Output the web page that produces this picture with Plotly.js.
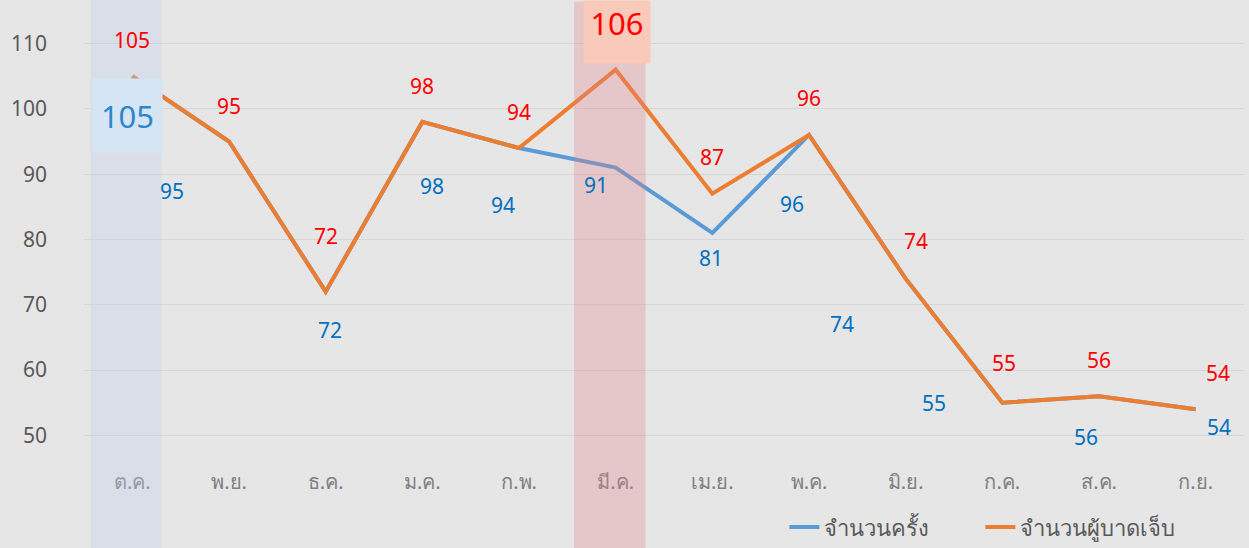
<!DOCTYPE html>
<html>
<head>
<meta charset="utf-8">
<script src="https://cdn.plot.ly/plotly-3.0.1.min.js"></script>
<style>html,body{margin:0;padding:0;background:#e6e6e6;}#chart{width:1249px;height:548px;}</style>
</head>
<body>
<div id="chart"></div>
<script>
// ---- data ----
const months = ['ต.ค.','พ.ย.','ธ.ค.','ม.ค.','ก.พ.','มี.ค.','เม.ย.','พ.ค.','มิ.ย.','ก.ค.','ส.ค.','ก.ย.'];
const incidents = [105, 95, 72, 98, 94, 91, 81, 96, 74, 55, 56, 54];   // จำนวนครั้ง
const injured   = [105, 95, 72, 98, 94, 106, 87, 96, 74, 55, 56, 54];  // จำนวนผู้บาดเจ็บ
const seriesNames = ['จำนวนครั้ง', 'จำนวนผู้บาดเจ็บ'];
const yTicks = [50, 60, 70, 80, 90, 100, 110];

// ---- label placement (pixel offsets, styling only) ----
const blueShift = [[-5,-39],[-57,-49],[4,-38],[10,-64],[-16,-57],[-20,-17],[-1,-25],[-17,-69],[-64,-45],[-68,0],[-13,-41],[23,-18]];
const redShift  = [[0,36],[0,36],[0,56],[0,36],[0,36],[1,38],[0,37],[0,37],[10,38],[2,40],[0,36],[22,36]];
const bigBlueIdx = 0, bigRedIdx = 5;

const FONT = '"Noto Sans", "Open Sans", "DejaVu Sans", sans-serif';

const traces = [
  {x: months, y: incidents, name: seriesNames[0], type: 'scatter', mode: 'lines',
   line: {color: '#5b9bd5', width: 4}},
  {x: months, y: injured, name: seriesNames[1], type: 'scatter', mode: 'lines',
   line: {color: '#ed7d31', width: 4}}
];

const annotations = [];
months.forEach((m, i) => {
  const bigB = i === bigBlueIdx;
  annotations.push({
    x: m, y: incidents[i], xref: 'x', yref: 'y', text: String(incidents[i]),
    showarrow: false, xshift: blueShift[i][0], yshift: blueShift[i][1],
    font: {family: FONT, size: bigB ? 31 : 21, color: bigB ? '#2e86cc' : '#0070c0'},
    bgcolor: bigB ? '#d5e5f4' : 'rgba(0,0,0,0)',
    width: bigB ? 67 : undefined, height: bigB ? 71 : undefined
  });
  const bigR = i === bigRedIdx;
  annotations.push({
    x: m, y: injured[i], xref: 'x', yref: 'y', text: String(injured[i]),
    showarrow: false, xshift: redShift[i][0], yshift: redShift[i][1],
    font: {family: FONT, size: bigR ? 31 : 21, color: '#ff0000'},
    bgcolor: bigR ? '#f9c9b9' : 'rgba(0,0,0,0)',
    width: bigR ? 64 : undefined, height: bigR ? 60 : undefined,
    valign: bigR ? 'top' : 'middle'
  });
});

const layout = {
  width: 1249, height: 548,
  paper_bgcolor: '#e6e6e6', plot_bgcolor: '#e6e6e6',
  margin: {l: 84, r: 5, t: 0, b: 80, autoexpand: false},
  font: {family: FONT, color: '#595959'},
  showlegend: true,
  legend: {orientation: 'h', xref: 'container', yref: 'container',
           x: 0.628, xanchor: 'left', y: 0.038, yanchor: 'middle',
           font: {family: FONT, size: 22, color: '#595959'}, bgcolor: 'rgba(0,0,0,0)',
           itemwidth: 30, tracegroupgap: 0, entrywidth: 151, entrywidthmode: 'pixels'},
  xaxis: {type: 'category', showgrid: false, zeroline: false, showline: false,
          ticks: '', tickfont: {family: FONT, size: 20, color: '#808080'},
          ticklabelstandoff: 0,
          range: [-0.5, months.length - 0.5], fixedrange: true, automargin: false},
  yaxis: {range: [45, 116.67], tickvals: yTicks, showgrid: true, gridcolor: '#d6d6d6', gridwidth: 1,
          zeroline: false, showline: false, ticks: '', automargin: false,
          tickfont: {family: FONT, size: 21, color: '#595959'}, ticklabelstandoff: 36, fixedrange: true},
  shapes: [
    {type: 'rect', xref: 'x', yref: 'paper', x0: -0.43, x1: 0.30, y0: -0.25, y1: 1.0,
     fillcolor: 'rgba(190,205,235,0.32)', line: {width: 0}, layer: 'above'},
    {type: 'rect', xref: 'x', yref: 'paper', x0: 4.57, x1: 5.31, y0: -0.25, y1: 0.996,
     fillcolor: 'rgba(228,130,140,0.3)', line: {width: 0}, layer: 'above'}
  ],
  annotations: annotations
};

Plotly.newPlot('chart', traces, layout, {displayModeBar: false, staticPlot: true});
</script>
</body>
</html>
